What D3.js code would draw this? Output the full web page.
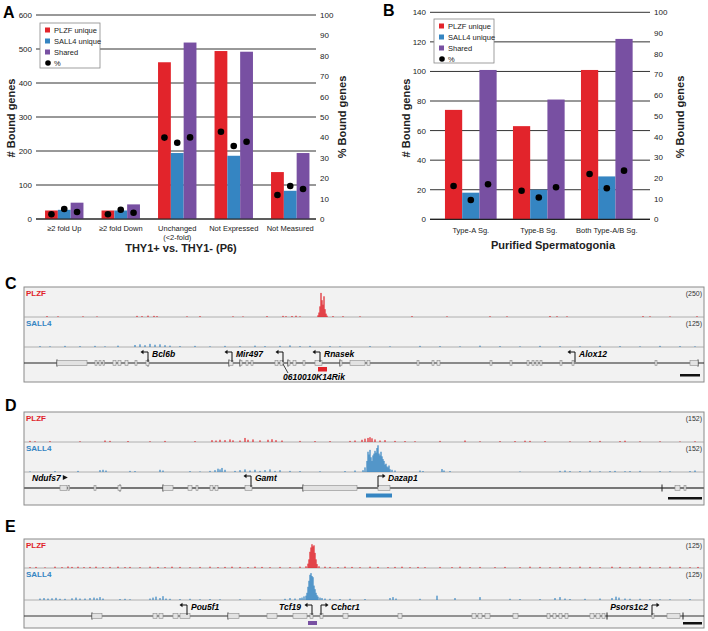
<!DOCTYPE html>
<html><head><meta charset="utf-8">
<script src="https://cdn.jsdelivr.net/npm/d3@7"></script>
<style>body{margin:0;background:#fff}svg{display:block;font-family:"Liberation Sans",Arial,sans-serif}</style>
</head><body><svg id="c" width="708" height="631"></svg>
<script>
// ---------- DATA ----------
const series = ["PLZF unique","SALL4 unique","Shared"];
const catsA = [["≥2 fold Up"],["≥2 fold Down"],["Unchanged","(<2-fold)"],["Not Expressed"],["Not Measured"]];
const A_plzf = [25,25,461,494,138];
const A_sall4 = [27,25,194,186,83];
const A_shared = [48,43,519,492,194];
const A_pct_plzf = [2.3,2.3,39.9,42.8,11.8];
const A_pct_sall4 = [4.9,4.5,37.4,35.8,16.2];
const A_pct_shared = [3.4,3.1,40,37.9,14.7];
const A_ticksL = [0,100,200,300,400,500,600];
const A_ticksR = [0,10,20,30,40,50,60,70,80,90,100];

const catsB = [["Type-A Sg."],["Type-B Sg."],["Both Type-A/B Sg."]];
const B_plzf = [74,63,101];
const B_sall4 = [18,20,29];
const B_shared = [101,81,122];
const B_pct_plzf = [16.1,13.8,21.9];
const B_pct_sall4 = [9.3,10.5,15];
const B_pct_shared = [16.9,15.5,23.5];
const B_ticksL = [0,20,40,60,80,100,120,140];
const B_ticksR = [0,10,20,30,40,50,60,70,80,90,100];

// genome browser tracks: [position, signal]
const C_PLZF = [[23,8],[34,6],[59,6],[73,5],[113,10],[118,8],[124,12],[130,10],[133,8],[163,6],[176,8],[209,6],[219,5],[243,8],[259,10],[262,7],[268,9],[272,11],[276,6],
 [294,15],[295,40],[296,95],[297,215],[298,150],[299,110],[300,185],[301,70],[302,30],[303,12],
 [309,8],[319,7],[336,6],[388,8],[423,6],[466,7],[483,6],[526,9],[533,7],[543,6],[619,8],[626,6],[646,5],[673,7]];
const C_SALL4 = [[16,4],[26,3],[41,5],[56,4],[71,5],[81,3],[94,6],[111,9],[116,12],[121,8],[126,14],[131,10],[136,12],[141,8],[146,6],[156,4],[171,5],[186,3],[201,5],[216,4],[231,6],[241,4],[256,5],[266,7],[276,4],[286,5],[306,4],[316,3],[346,4],[366,3],[396,5],[416,4],[436,3],[456,6],[476,4],[496,3],[516,5],[536,4],[556,3],[576,5],[596,4],[616,3],[636,5],[656,4],[671,3]];
const D_PLZF = [[6,6],[11,4],[26,5],[56,4],[81,8],[86,6],[104,5],[126,4],[141,6],[171,5],[188,10],[192,8],[196,12],[201,10],[206,14],[209,9],[216,8],[221,22],[224,12],[229,14],[236,9],[244,12],[248,15],[252,10],[258,8],[276,6],[291,5],[306,5],[326,6],[331,8],[338,12],[341,18],[344,22],[346,26],[348,20],[351,14],[356,8],[361,10],[371,6],[381,5],[391,4],[416,6],[441,8],[456,4],[476,5],[491,5],[501,7],[506,6],[521,5],[546,4],[566,5],[576,6],[596,5],[601,7],[616,4],[636,4],[656,3],[671,4]];
const D_SALL4 = [[6,3],[31,5],[54,6],[76,10],[79,12],[82,8],[106,6],[111,5],[136,12],[139,8],[166,5],[176,3],[186,6],[191,10],[194,18],[196,14],[198,22],[201,12],[211,6],[216,10],[221,14],[226,8],[231,12],[236,6],[241,10],[246,14],[251,6],[256,10],[266,6],[276,5],[296,4],[321,5],[331,8],
 [339,10],[341,25],[343,60],[344,110],[345,95],[346,120],[347,80],[348,60],[349,90],[350,100],[351,115],[352,105],[353,130],[354,145],[355,100],[356,90],[357,110],[358,85],[359,70],[360,60],[361,40],[362,45],[363,30],[364,25],[365,35],[366,15],[368,12],[371,8],
 [396,8],[399,5],[418,16],[420,8],[426,5],[496,3],[536,6],[541,8],[546,5],[556,5],[566,7],[576,4],[586,5],[591,6],[601,4],[606,5],[616,6],[636,5],[646,4],[666,5],[671,8]];
const E_PLZF = [[6,4],[12,5],[21,3],[31,6],[38,4],[44,7],[48,5],[54,6],[60,4],[66,5],[72,6],[79,4],[86,5],[94,6],[101,4],[106,5],[116,4],[126,6],[134,5],[141,4],[148,6],[156,5],[166,4],[176,5],[186,6],[194,4],[201,5],[208,6],[216,5],[224,4],[231,6],[238,5],[246,4],[256,5],[266,4],[276,6],
 [282,8],[284,20],[285,40],[286,75],[287,95],[288,110],[289,100],[290,105],[291,70],[292,40],[293,18],[295,8],
 [301,6],[306,5],[314,4],[321,6],[328,5],[336,4],[346,6],[354,5],[364,4],[371,5],[378,6],[386,4],[394,5],[401,4],[416,5],[428,4],[436,6],[446,4],[456,5],[471,4],[481,5],[496,4],[506,6],[516,5],[526,4],[536,5],[546,4],[556,6],[566,5],[576,4],[588,6],[596,5],[606,4],[616,6],[626,5],[636,4],[646,6],[656,5],[666,4],[674,5]];
const E_SALL4 = [[16,6],[20,8],[24,6],[28,7],[32,9],[36,5],[41,5],[48,7],[52,10],[56,6],[61,6],[66,8],[70,10],[73,7],[76,12],[79,6],[96,4],[101,5],[106,3],[126,6],[129,10],[132,14],[136,8],[139,16],[142,6],[146,5],[156,4],[166,5],[176,3],[186,4],[196,3],[216,3],[236,3],[261,5],[266,8],[271,6],
 [276,8],[278,10],[280,15],[282,18],[283,30],[284,55],[285,80],[286,105],[287,112],[288,100],[289,95],[290,60],[291,45],[292,30],[293,20],[294,14],[296,10],[298,8],
 [301,6],[306,5],[316,4],[326,5],[341,4],[366,8],[369,12],[372,6],[396,5],[413,18],[431,8],[456,12],[486,5],[496,4],[516,4],[531,8],[536,12],[541,6],[546,4],[561,5],[576,6],[588,8],[592,14],[595,10],[601,6],[606,5],[616,5],[626,4],[636,3],[646,3],[666,4]];

const C_exons = [[33,63],[71,73],[75,77],[79,80],[89,92],[94,97],[101,104],[111,113],[122,125],[205,209],[216,218],[222,224],[227,229],[251,254],[256,259],[264,266],[269,272],[279,281],[291,298],[316,318],[326,341],[343,346],[393,395],[408,410],[413,416],[466,468],[486,488],[503,505],[508,510],[512,514],[516,518],[536,538],[548,550],[631,633],[666,674]];
const C_ticks = [33,124,205,216,264,316,674];
const C_genes = [{name:"Bcl6b",pos:124,dir:-1,side:"right"},{name:"Mir497",pos:208,dir:-1,side:"right"},{name:"Rnasek",pos:296,dir:-1,side:"right"},{name:"Alox12",pos:551,dir:-1,side:"right"},{name:"0610010K14Rik",pos:259,dir:-1,side:"below"}];
const C_peak = [294,303];
const D_exons = [[36,43],[44,45],[70,72],[94,97],[139,149],[164,168],[172,174],[186,189],[191,194],[221,228],[279,333],[354,366],[651,656],[660,662]];
const D_ticks = [96,139,279,638];
const D_genes = [{name:"Gamt",pos:227,dir:-1,side:"right"},{name:"Dazap1",pos:354,dir:1,side:"right"},{name:"Ndufs7",pos:8,dir:1,side:"start"}];
const D_peak = [342,368];
const E_exons = [[68,78],[129,133],[135,139],[149,154],[156,166],[204,215],[243,253],[269,283],[286,289],[296,299],[319,324],[374,378],[448,452],[454,458],[461,466],[489,494],[523,526],[529,532],[535,538],[541,544],[566,570],[572,576],[578,581],[628,630],[643,656]];
const E_ticks = [68,204,583,659];
const E_genes = [{name:"Pou5f1",pos:163,dir:-1,side:"right"},{name:"Tcf19",pos:288,dir:-1,side:"left"},{name:"Cchcr1",pos:297,dir:1,side:"right"},{name:"Psors1c2",pos:628,dir:1,side:"left"}];
const E_peak = [284,293];

// ---------- STYLE ----------
const colors = ["#e2242b","#3585c2","#7850a2"];
const svg = d3.select("#c");

function barPanel(o){
  const g = svg.append("g");
  const yL = d3.scaleLinear().domain([0,o.maxL]).range([o.y0,o.y1]);
  const yR = d3.scaleLinear().domain([0,100]).range([o.y0,o.y1]);
  const x0 = d3.scaleBand().domain(d3.range(o.cats.length)).range(o.xr).paddingInner(o.pi).paddingOuter(o.pi/2);
  const x1 = d3.scaleBand().domain(d3.range(3)).range([0,x0.bandwidth()]);
  g.selectAll(".gl").data(o.ticksL).join("line")
    .attr("x1",o.gx[0]).attr("x2",o.gx[1]).attr("y1",d=>yL(d)).attr("y2",d=>yL(d))
    .attr("stroke","#333").attr("stroke-width",1);
  g.selectAll(".tl").data(o.ticksL).join("text").attr("x",o.gx[0]-4).attr("y",d=>yL(d)+3)
    .attr("text-anchor","end").attr("font-size",8).attr("fill","#222").text(d=>d);
  g.selectAll(".tr").data(o.ticksR).join("text").attr("x",o.gx[1]+4).attr("y",d=>yR(d)+3)
    .attr("text-anchor","start").attr("font-size",8).attr("fill","#222").text(d=>d);
  o.vals.forEach((arr,si)=>{
    g.selectAll(".b"+si).data(arr).join("rect")
      .attr("x",(d,i)=>x0(i)+x1(si)).attr("width",x1.bandwidth())
      .attr("y",d=>yL(d)).attr("height",d=>yL(0)-yL(d)).attr("fill",colors[si]);
  });
  g.append("line").attr("x1",o.gx[0]).attr("x2",o.gx[1]).attr("y1",yL(0)).attr("y2",yL(0)).attr("stroke","#222").attr("stroke-width",1.2);
  o.pct.forEach((arr,si)=>{
    g.selectAll(".d"+si).data(arr).join("circle")
      .attr("cx",(d,i)=>x0(i)+x1(si)+x1.bandwidth()/2).attr("cy",d=>yR(d)).attr("r",3.3).attr("fill","#000");
  });
  o.cats.forEach((lines,i)=>{
    lines.forEach((t,j)=>g.append("text").attr("x",x0(i)+x0.bandwidth()/2).attr("y",o.catY+j*9)
      .attr("text-anchor","middle").attr("font-size",7.5).attr("fill","#222").text(t));
  });
  g.append("text").attr("x",o.titleX).attr("y",o.titleY).attr("text-anchor","middle")
    .attr("font-size",11).attr("font-weight","bold").attr("fill","#222").text(o.title);
  g.append("text").attr("transform",`translate(${o.ylX},${o.ylY}) rotate(-90)`).attr("text-anchor","middle")
    .attr("font-size",11).attr("font-weight","bold").attr("fill","#222").text("# Bound genes");
  g.append("text").attr("transform",`translate(${o.yrX},${o.yrY}) rotate(-90)`).attr("text-anchor","middle")
    .attr("font-size",11).attr("font-weight","bold").attr("fill","#222").text("% Bound genes");
  const L = o.leg;
  g.append("rect").attr("x",L.x).attr("y",L.y).attr("width",L.w).attr("height",L.h).attr("fill","#fff").attr("stroke","#888").attr("stroke-width",0.8);
  series.concat(["%"]).forEach((t,i)=>{
    const yy = L.y + 7 + i*L.dy;
    if(i<3) g.append("rect").attr("x",L.x+5).attr("y",yy-2.5).attr("width",5).attr("height",5).attr("fill",colors[i]);
    else g.append("circle").attr("cx",L.x+8).attr("cy",yy).attr("r",2.8).attr("fill","#000");
    g.append("text").attr("x",L.x+14).attr("y",yy+2.7).attr("font-size",7.5).attr("fill","#222").text(t);
  });
  g.append("text").attr("x",o.letter[1]).attr("y",o.letter[2]).attr("font-size",16).attr("font-weight","bold").text(o.letter[0]);
}

barPanel({cats:catsA,vals:[A_plzf,A_sall4,A_shared],pct:[A_pct_plzf,A_pct_sall4,A_pct_shared],
  maxL:600,y0:219,y1:15,xr:[36,318.5],pi:0.32,gx:[36,316],ticksL:A_ticksL,ticksR:A_ticksR,catY:231,
  title:"THY1+ vs. THY1- (P6)",titleX:181,titleY:252,ylX:15,ylY:118,yrX:346,yrY:117,
  leg:{x:40,y:23,w:60,h:45,dy:11},letter:["A",3,18]});
barPanel({cats:catsB,vals:[B_plzf,B_sall4,B_shared],pct:[B_pct_plzf,B_pct_sall4,B_pct_shared],
  maxL:140,y0:219.3,y1:12.3,xr:[436.8,640.8],pi:0.24,gx:[430,650],ticksL:B_ticksL,ticksR:B_ticksR,catY:233,
  title:"Purified Spermatogonia",titleX:553,titleY:249,ylX:410,ylY:118,yrX:684,yrY:117,
  leg:{x:434,y:19,w:60,h:44,dy:11},letter:["B",383,16]});

function region(o){
  const g = svg.append("g");
  const xs = d3.scaleLinear().domain([0,680]).range([24,704]);
  g.append("rect").attr("x",24).attr("y",o.top).attr("width",680).attr("height",o.bottom-o.top)
    .attr("fill","#f2f2f2").attr("stroke","#8a8a8a").attr("stroke-width",1);
  [o.sep1,o.sep2].forEach(s=>g.append("line").attr("x1",24).attr("x2",704).attr("y1",s).attr("y2",s).attr("stroke","#a0a0a0").attr("stroke-width",0.8));
  const tracks = [{data:o.plzf,max:o.maxP,base:o.sep1,top:o.top,col:"#e0232a",name:"PLZF"},
                  {data:o.sall,max:o.maxS,base:o.sep2,top:o.sep1,col:"#3585c2",name:"SALL4"}];
  tracks.forEach(t=>{
    const ys = d3.scaleLinear().domain([0,t.max]).range([t.base,t.top+2]);
    g.selectAll(null).data(t.data).join("rect")
      .attr("x",d=>xs(d[0])-0.6).attr("width",1.2).attr("y",d=>ys(d[1])).attr("height",d=>t.base-ys(d[1])).attr("fill",t.col);
    g.append("text").attr("x",26).attr("y",t.top+9).attr("font-size",8).attr("font-weight","bold").attr("fill",t.col).text(t.name);
    g.append("text").attr("x",702).attr("y",t.top+9).attr("text-anchor","end").attr("font-size",7).attr("fill","#333").text(`(${t.max})`);
  });
  g.append("line").attr("x1",24).attr("x2",704).attr("y1",o.lineY).attr("y2",o.lineY).attr("stroke",o.lineCol).attr("stroke-width",o.lineW);
  g.selectAll(null).data(o.ticks).join("line").attr("x1",d=>xs(d)).attr("x2",d=>xs(d))
    .attr("y1",o.lineY-3.5).attr("y2",o.lineY+3.5).attr("stroke","#222").attr("stroke-width",1);
  g.selectAll(null).data(o.exons).join("rect").attr("x",d=>xs(d[0])).attr("width",d=>Math.max(1.5,xs(d[1])-xs(d[0])))
    .attr("y",o.lineY-2.5).attr("height",5).attr("fill","#e2e2e2").attr("stroke","#8a8a8a").attr("stroke-width",0.6);
  o.genes.forEach(ge=>{
    const x = xs(ge.pos);
    const fs = 8.5;
    if(ge.side==="start"){
      const tx = g.append("text").attr("x",x).attr("y",o.labY).attr("font-size",fs).attr("font-weight","bold").attr("font-style","italic").text(ge.name);
      const w = tx.node().getComputedTextLength()+2;
      g.append("path").attr("d",`M${x+w},${o.labY-6}L${x+w+5},${o.labY-3.5}L${x+w},${o.labY-1}Z`).attr("fill","#111");
      return;
    }
    const top = o.labY-5, head = x + ge.dir*5;
    g.append("path").attr("d",`M${x},${o.lineY-1}V${top}H${head}`).attr("fill","none").attr("stroke","#111").attr("stroke-width",1);
    g.append("path").attr("d",`M${head+ge.dir*2.5},${top}L${head-ge.dir*0.5},${top-2.3}L${head-ge.dir*0.5},${top+2.3}Z`).attr("fill","#111");
    if(ge.side==="right"){
      const lx = ge.dir<0 ? x+4 : head+5;
      g.append("text").attr("x",lx).attr("y",o.labY).attr("font-size",fs).attr("font-weight","bold").attr("font-style","italic").text(ge.name);
    } else if(ge.side==="left"){
      const lx = ge.dir<0 ? head-6 : x-4;
      g.append("text").attr("x",lx).attr("y",o.labY).attr("text-anchor","end").attr("font-size",fs).attr("font-weight","bold").attr("font-style","italic").text(ge.name);
    } else if(ge.side==="below"){
      g.append("path").attr("d",`M${x},${o.lineY+1}L${x+5},${o.lineY+10}`).attr("stroke","#111").attr("stroke-width",0.8);
      g.append("text").attr("x",x+31).attr("y",o.lineY+17).attr("text-anchor","middle").attr("font-size",fs).attr("font-weight","bold").attr("font-style","italic").text(ge.name);
    }
  });
  g.append("rect").attr("x",xs(o.peak[0])).attr("width",xs(o.peak[1])-xs(o.peak[0])).attr("y",o.barY).attr("height",o.barH).attr("fill",o.barCol);
  g.append("rect").attr("x",xs(o.scale[0])).attr("width",xs(o.scale[1])-xs(o.scale[0])).attr("y",o.scaleY).attr("height",2.5).attr("fill","#111");
  g.append("text").attr("x",5).attr("y",o.letterY).attr("font-size",16).attr("font-weight","bold").text(o.letter);
}

region({letter:"C",letterY:289,top:287,bottom:382,sep1:317,sep2:347,plzf:C_PLZF,sall:C_SALL4,maxP:250,maxS:125,
  lineY:363,lineCol:"#222",lineW:1,labY:357,ticks:C_ticks,exons:C_exons,genes:C_genes,peak:C_peak,barY:367,barH:4.5,barCol:"#e2242b",
  scale:[656,676],scaleY:374});
region({letter:"D",letterY:411,top:412,bottom:505,sep1:442,sep2:472,plzf:D_PLZF,sall:D_SALL4,maxP:152,maxS:152,
  lineY:488,lineCol:"#777",lineW:1.8,labY:481,ticks:D_ticks,exons:D_exons,genes:D_genes,peak:D_peak,barY:493.5,barH:4,barCol:"#3585c2",
  scale:[644,678],scaleY:497});
region({letter:"E",letterY:532,top:539,bottom:628,sep1:568,sep2:600,plzf:E_PLZF,sall:E_SALL4,maxP:125,maxS:125,
  lineY:616,lineCol:"#333",lineW:1.1,labY:610,ticks:E_ticks,exons:E_exons,genes:E_genes,peak:E_peak,barY:621,barH:4,barCol:"#7850a2",
  scale:[659,678],scaleY:622});
</script></body></html>
